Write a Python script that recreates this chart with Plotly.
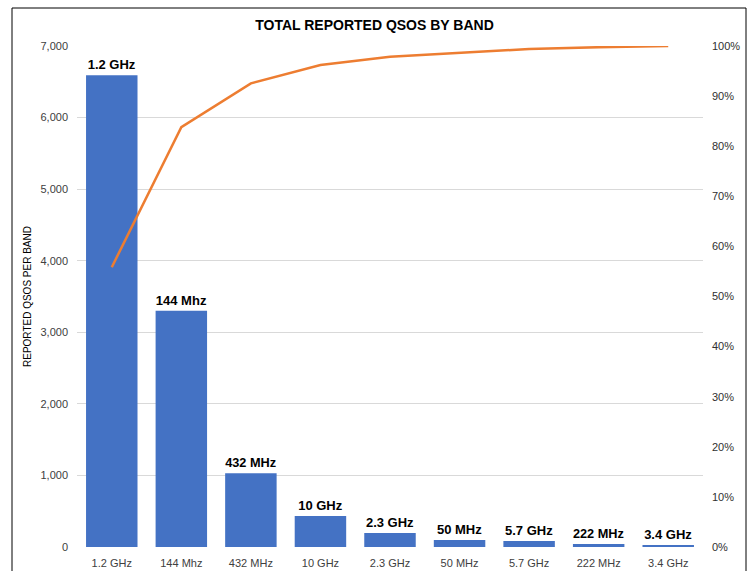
import plotly.graph_objects as go
import numpy as np

bands = ["1.2 GHz", "144 Mhz", "432 MHz", "10 GHz", "2.3 GHz", "50 MHz", "5.7 GHz", "222 MHz", "3.4 GHz"]
qsos = [6590, 3300, 1030, 433, 196, 98, 84, 42, 28]

cum_pct = np.cumsum(qsos) / np.sum(qsos) * 100

FONT = "Liberation Sans Narrow, Liberation Sans, Arial, sans-serif"
TICK = "#404040"

fig = go.Figure()
fig.add_trace(go.Bar(
    x=bands, y=qsos, marker=dict(color="#4472C4", line=dict(width=0)),
    text=bands, textposition="outside", cliponaxis=False,
    textfont=dict(family=FONT, size=13, color="#000000"),
    texttemplate="<b>%{text}</b>", width=0.74, yaxis="y",
))
fig.add_trace(go.Scatter(
    x=bands, y=cum_pct, mode="lines", line=dict(color="#ED7D31", width=2.5),
    yaxis="y2",
))

L, R, T, B = 77, 46, 46, 24
W, H = 749, 571
pw, ph = W - L - R, H - T - B

fig.update_layout(
    template="none",
    width=W, height=H,
    margin=dict(l=L, r=R, t=T, b=B),
    paper_bgcolor="white", plot_bgcolor="white",
    showlegend=False,
    font=dict(family=FONT, size=11, color=TICK),
    title=dict(text="<b>TOTAL REPORTED QSOS BY BAND</b>", x=0.5, xanchor="center",
               y=1 - 25 / H, yanchor="middle",
               font=dict(family=FONT, size=14, color="#000000")),
    xaxis=dict(showgrid=False, showline=False, ticks="", color=TICK,
               tickfont=dict(family=FONT, size=11, color=TICK),
               ticklen=0, ticklabelstandoff=8, range=[-0.5, 8.5]),
    yaxis=dict(range=[0, 7000], dtick=1000, tickformat=",", showgrid=True, gridcolor="#D9D9D9",
               gridwidth=1, zeroline=False, showline=False, ticks="", ticklabelstandoff=8, color=TICK,
               tickfont=dict(family=FONT, size=11, color=TICK),
               title=dict(text="REPORTED QSOS PER BAND", font=dict(family=FONT, size=10, color="#000000"),
                          standoff=6)),
    yaxis2=dict(range=[0, 100], dtick=10, ticksuffix="%", overlaying="y", side="right",
                showgrid=False, zeroline=False, showline=False, ticks="", ticklabelstandoff=8,
                color="#303030", tickfont=dict(family=FONT, size=11, color="#303030")),
)

# outer chart border
fig.add_shape(type="rect", xref="paper", yref="paper",
              x0=(12 - L) / pw, x1=(746 - L) / pw,
              y0=(H - B - 580) / ph, y1=(H - B - 8) / ph,
              line=dict(color="#000000", width=1), layer="below")

fig.write_html("out.html")
